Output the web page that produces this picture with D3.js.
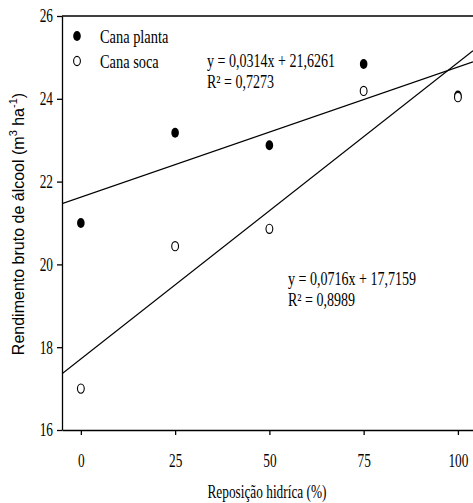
<!DOCTYPE html>
<html><head><meta charset="utf-8">
<script src="https://cdn.jsdelivr.net/npm/d3@7"></script>
<style>body{margin:0;background:#fff}svg{display:block}</style>
</head><body><svg id="c" width="473" height="503"></svg>
<script>
const xValues = [0, 25, 50, 75, 100];
const canaPlanta = [21.0, 23.18, 22.88, 24.84, 24.08];
const canaSoca = [17.0, 20.44, 20.86, 24.19, 24.04];
const xTicks = [0, 25, 50, 75, 100];
const yTicks = [16, 18, 20, 22, 24, 26];
const fitPlanta = {a: 0.0314, b: 21.6261, eq: "y = 0,0314x + 21,6261", r2: "0,7273"};
const fitSoca = {a: 0.0716, b: 17.7159, eq: "y = 0,0716x + 17,7159", r2: "0,8989"};
const seriesNames = ["Cana planta", "Cana soca"];

const svg = d3.select("#c");
const L = 62, R = 473, T = 16, B = 430;
const x = d3.scaleLinear().domain([-5, 104]).range([L, R]);
const y = d3.scaleLinear().domain([16, 26]).range([B, T]);
const serif = "'Liberation Serif','Times New Roman',serif";
const sx = 0.74;

// top border
svg.append("line").attr("x1", L).attr("x2", R).attr("y1", T).attr("y2", T)
  .attr("stroke", "#000").attr("stroke-width", 1.3);

const ax = svg.append("g").attr("transform", `translate(0,${B})`)
  .call(d3.axisBottom(x).tickValues(xTicks).tickSize(5).tickSizeOuter(0).tickFormat(d3.format("d")));
ax.selectAll("text").attr("font-family", serif).attr("font-size", 18).attr("fill", "#000")
  .attr("y", 0).attr("dy", 0)
  .attr("transform", `translate(0,37) scale(${sx},1)`);
const ay = svg.append("g").attr("transform", `translate(${L},0)`)
  .call(d3.axisLeft(y).tickValues(yTicks).tickSize(5).tickSizeOuter(0));
ay.selectAll("text").attr("font-family", serif).attr("font-size", 18).attr("fill", "#000")
  .attr("x", 0).attr("dy", "0.33em")
  .attr("transform", `translate(-9,0) scale(${sx},1)`);
svg.selectAll(".domain, .tick line").attr("stroke", "#000").attr("stroke-width", 1.3);

// regression lines
const clip = svg.append("clipPath").attr("id", "cp").append("rect")
  .attr("x", L).attr("y", T).attr("width", R - L).attr("height", B - T);
[fitPlanta, fitSoca].forEach(f => {
  const xs = x.domain();
  svg.append("line").attr("clip-path", "url(#cp)")
    .attr("x1", x(xs[0])).attr("y1", y(f.a * xs[0] + f.b))
    .attr("x2", x(xs[1])).attr("y2", y(f.a * xs[1] + f.b))
    .attr("stroke", "#000").attr("stroke-width", 1.2);
});

// points
svg.selectAll(".pp").data(xValues).enter().append("ellipse")
  .attr("cx", (d) => x(d)).attr("cy", (d, i) => y(canaPlanta[i]))
  .attr("rx", 3.8).attr("ry", 5).attr("fill", "#000");
svg.selectAll(".ps").data(xValues).enter().append("ellipse")
  .attr("cx", (d) => x(d)).attr("cy", (d, i) => y(canaSoca[i]))
  .attr("rx", 3.4).attr("ry", 4.6).attr("fill", "#fff").attr("stroke", "#000").attr("stroke-width", 1.1);

// legend
const leg = svg.append("g");
leg.append("ellipse").attr("cx", 77).attr("cy", 36).attr("rx", 3.8).attr("ry", 5).attr("fill", "#000");
leg.append("ellipse").attr("cx", 77).attr("cy", 61).attr("rx", 3.4).attr("ry", 4.6)
  .attr("fill", "#fff").attr("stroke", "#000").attr("stroke-width", 1.1);
function ctext(tx, ty, str, size, s) {
  return svg.append("text").attr("transform", `translate(${tx},${ty}) scale(${s},1)`)
    .attr("font-family", serif).attr("font-size", size).attr("fill", "#000").text(str);
}
ctext(100, 43, seriesNames[0], 18, 0.8);
ctext(100, 68, seriesNames[1], 18, 0.8);

// equations
ctext(207, 67, fitPlanta.eq, 18, 0.78);
ctext(207, 88, "R² = " + fitPlanta.r2, 18, 0.78);
ctext(288, 285, fitSoca.eq, 18, 0.78);
ctext(288, 306, "R² = " + fitSoca.r2, 18, 0.78);

// axis titles
ctext(267, 498, "Reposição hidríca (%)", 18, 0.74).attr("text-anchor", "middle");
const yt = svg.append("text").attr("transform", "translate(24,224) rotate(-90)")
  .attr("text-anchor", "middle").attr("font-family", "'Liberation Sans',Arial,sans-serif")
  .attr("font-size", 16).attr("fill", "#000");
yt.append("tspan").text("Rendimento bruto de álcool (m");
yt.append("tspan").attr("dy", -7).attr("font-size", 11).text("3");
yt.append("tspan").attr("dy", 7).text(" ha");
yt.append("tspan").attr("dy", -7).attr("font-size", 11).text("-1");
yt.append("tspan").attr("dy", 7).text(")");
</script></body></html>
